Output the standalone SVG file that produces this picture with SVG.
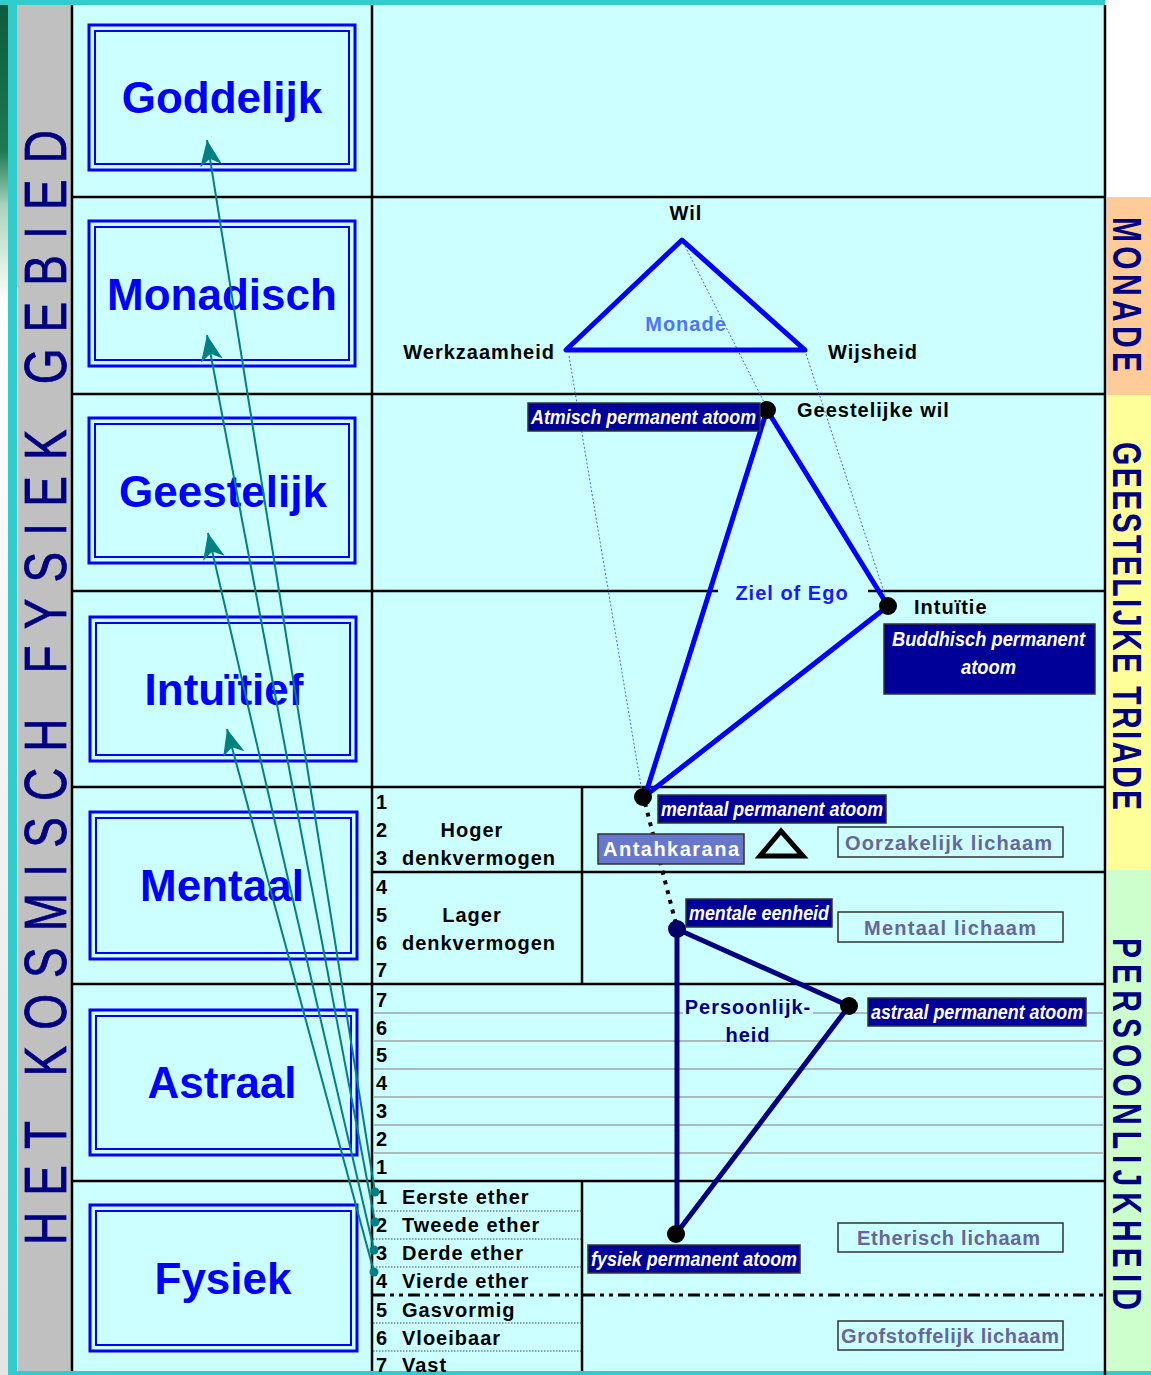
<svg xmlns="http://www.w3.org/2000/svg" width="1151" height="1375" viewBox="0 0 1151 1375">
<defs>
<linearGradient id="leftg" x1="0" y1="0" x2="0" y2="1">
<stop offset="0" stop-color="#0d5a3c"/>
<stop offset="0.11" stop-color="#1d7a55"/>
<stop offset="0.15" stop-color="#a9d4bd"/>
<stop offset="0.22" stop-color="#ffffff"/>
<stop offset="1" stop-color="#e4e4e4"/>
</linearGradient>
<marker id="ah" viewBox="-28 -13 30 26" markerWidth="30" markerHeight="26" refX="0" refY="0" orient="auto" markerUnits="userSpaceOnUse">
<path d="M0,0 L-26,-11 L-19,0 L-26,11 Z" fill="#008080"/>
</marker>
</defs>
<style>
text{font-family:"Liberation Sans",Arial,Helvetica,sans-serif}
.grid{stroke:#000;stroke-width:2.5;fill:none}
.thin{stroke:#a8bcbc;stroke-width:2}
.dot1{stroke:#444;stroke-width:1;stroke-dasharray:1.5 1.5}
.po{fill:none;stroke:#0000ff;stroke-width:3}
.pi{fill:none;stroke:#0000ff;stroke-width:2}
.pt{font-weight:bold;font-size:44px;fill:#0000ff;text-anchor:middle}
.t{font-weight:bold;font-size:20px;fill:#000;letter-spacing:1px}
.n{font-weight:bold;font-size:20px;fill:#000}
.lab rect{fill:#000099;stroke:#333;stroke-width:1.5}
.lab text{font-weight:bold;font-style:italic;font-size:20px;fill:#fff}
.bod rect{fill:#ccffff;stroke:#333;stroke-width:1.5}
.bod text{font-weight:bold;font-size:20px;fill:#666699}
.side{font-weight:bold;font-size:30px;fill:#000080}
.soul{stroke:#0000ff;stroke-width:5;fill:none;stroke-linejoin:round;stroke-linecap:round}
.pers{stroke:#000080;stroke-width:5;fill:none;stroke-linecap:round}
.proj{stroke:#4466ff;stroke-width:1;stroke-dasharray:2 2;fill:none}
.arr{stroke:#008080;stroke-width:2;fill:none;marker-end:url(#ah)}
</style>

<g id="background">
<rect x="0" y="0" width="1151" height="1375" fill="#ffffff"/>
<rect x="0" y="0" width="9" height="1375" fill="url(#leftg)"/>
<rect x="0" y="0" width="1105" height="5" fill="#33cccc"/>
<rect x="8" y="0" width="9" height="1375" fill="#33cccc"/>
<rect x="17" y="5" width="54" height="1366" fill="#c0c0c0"/>
<line x1="17.5" y1="287" x2="17.5" y2="1371" stroke="#eeeeee" stroke-width="1"/>
<rect x="73" y="5" width="1032" height="1366" fill="#ccffff"/>
<rect x="1107" y="197" width="44" height="198" fill="#ffcc99"/>
<rect x="1107" y="395" width="44" height="475" fill="#ffff99"/>
<rect x="1107" y="870" width="44" height="505" fill="#ccffcc"/>
<rect x="8" y="1371" width="1143" height="4" fill="#33cccc"/>
</g>

<g id="grid">
<line class="grid" x1="72" y1="5" x2="72" y2="1371" stroke-width="3"/>
<line class="grid" x1="372" y1="5" x2="372" y2="1371" stroke-width="1.5"/>
<line class="grid" x1="1105" y1="5" x2="1105" y2="1375" stroke-width="3"/>
<line class="grid" x1="73" y1="197" x2="1105" y2="197"/>
<line class="grid" x1="73" y1="394" x2="1105" y2="394"/>
<line class="grid" x1="73" y1="591" x2="1105" y2="591"/>
<line class="grid" x1="73" y1="787" x2="1105" y2="787"/>
<line class="grid" x1="73" y1="984" x2="1105" y2="984"/>
<line class="grid" x1="73" y1="1181" x2="1105" y2="1181"/>
<line class="grid" x1="372" y1="872" x2="1105" y2="872" stroke-width="2"/>
<line class="grid" x1="582" y1="787" x2="582" y2="984" stroke-width="1.5"/>
<line class="grid" x1="582" y1="1181" x2="582" y2="1371" stroke-width="1.5"/>
<line class="thin" x1="373" y1="1013" x2="1104" y2="1013"/>
<line class="thin" x1="373" y1="1041" x2="1104" y2="1041"/>
<line class="thin" x1="373" y1="1069" x2="1104" y2="1069"/>
<line class="thin" x1="373" y1="1097" x2="1104" y2="1097"/>
<line class="thin" x1="373" y1="1125" x2="1104" y2="1125"/>
<line class="thin" x1="373" y1="1153" x2="1104" y2="1153"/>
<line class="dot1" x1="373" y1="1211" x2="582" y2="1211"/>
<line class="dot1" x1="373" y1="1239" x2="582" y2="1239"/>
<line class="dot1" x1="373" y1="1267" x2="582" y2="1267"/>
<line class="dot1" x1="373" y1="1323" x2="582" y2="1323"/>
<line class="dot1" x1="373" y1="1351" x2="582" y2="1351"/>
<line x1="373" y1="1295" x2="1104" y2="1295" stroke="#000" stroke-width="3" stroke-dasharray="12 5 4 5 4 5"/>
</g>

<g id="side-titles">
<text transform="translate(66,1245) rotate(-90) scale(1,1.3)" font-size="46" fill="#000080" stroke="#000080" stroke-width="0.6" textLength="1115" lengthAdjust="spacing">HET KOSMISCH FYSIEK GEBIED</text>
<text class="side" transform="translate(1113,217) rotate(90) scale(1,1.35)" textLength="155" lengthAdjust="spacing">MONADE</text>
<text class="side" transform="translate(1113,442) rotate(90) scale(1,1.35)" textLength="368" lengthAdjust="spacing">GEESTELIJKE TRIADE</text>
<text class="side" transform="translate(1113,938) rotate(90) scale(1,1.35)" textLength="372" lengthAdjust="spacing">PERSOONLIJKHEID</text>
</g>

<g id="plane-goddelijk"><rect class="po" x="89" y="25" width="266" height="145"/><rect class="pi" x="95" y="31" width="254" height="133"/><text class="pt" x="222" y="113">Goddelijk</text></g>
<g id="plane-monadisch"><rect class="po" x="89" y="221" width="266" height="145"/><rect class="pi" x="95" y="227" width="254" height="133"/><text class="pt" x="222" y="310">Monadisch</text></g>
<g id="plane-geestelijk"><rect class="po" x="89" y="418" width="266" height="145"/><rect class="pi" x="95" y="424" width="254" height="133"/><text class="pt" x="223" y="507">Geestelijk</text></g>
<g id="plane-intuitief"><rect class="po" x="90" y="617" width="266" height="144"/><rect class="pi" x="96" y="623" width="254" height="132"/><text class="pt" x="224" y="705">Intuïtief</text></g>
<g id="plane-mentaal"><rect class="po" x="90" y="812" width="267" height="147"/><rect class="pi" x="96" y="818" width="255" height="135"/><text class="pt" x="222" y="901">Mentaal</text></g>
<g id="plane-astraal"><rect class="po" x="90" y="1010" width="267" height="145"/><rect class="pi" x="96" y="1016" width="255" height="133"/><text class="pt" x="222" y="1098">Astraal</text></g>
<g id="plane-fysiek"><rect class="po" x="90" y="1205" width="267" height="146"/><rect class="pi" x="96" y="1211" width="255" height="134"/><text class="pt" x="223" y="1294">Fysiek</text></g>

<g id="subplanes-mentaal">
<text class="n" x="376" y="809">1</text>
<text class="n" x="376" y="837">2</text>
<text class="n" x="376" y="865">3</text>
<text class="n" x="376" y="894">4</text>
<text class="n" x="376" y="922">5</text>
<text class="n" x="376" y="950">6</text>
<text class="n" x="376" y="977">7</text>
<text class="t" x="472" y="837" text-anchor="middle">Hoger</text>
<text class="t" x="402" y="865" textLength="154" lengthAdjust="spacing">denkvermogen</text>
<text class="t" x="472" y="922" text-anchor="middle">Lager</text>
<text class="t" x="402" y="950" textLength="154" lengthAdjust="spacing">denkvermogen</text>
</g>
<g id="subplanes-astraal">
<text class="n" x="376" y="1007">7</text>
<text class="n" x="376" y="1035">6</text>
<text class="n" x="376" y="1062">5</text>
<text class="n" x="376" y="1090">4</text>
<text class="n" x="376" y="1118">3</text>
<text class="n" x="376" y="1146">2</text>
<text class="n" x="376" y="1174">1</text>
</g>
<g id="subplanes-fysiek">
<text class="n" x="376" y="1204">1</text>
<text class="n" x="376" y="1232">2</text>
<text class="n" x="376" y="1260">3</text>
<text class="n" x="376" y="1288">4</text>
<text class="n" x="376" y="1317">5</text>
<text class="n" x="376" y="1345">6</text>
<text class="n" x="376" y="1372">7</text>
<text class="t" x="402" y="1204">Eerste ether</text>
<text class="t" x="402" y="1232">Tweede ether</text>
<text class="t" x="402" y="1260">Derde ether</text>
<text class="t" x="402" y="1288">Vierde ether</text>
<text class="t" x="402" y="1317">Gasvormig</text>
<text class="t" x="402" y="1345">Vloeibaar</text>
<text class="t" x="402" y="1372">Vast</text>
</g>

<g id="connectors">
<line class="proj" x1="569" y1="356" x2="642" y2="792"/>
<line class="proj" x1="685" y1="246" x2="765" y2="404"/>
<line class="proj" x1="806" y1="354" x2="886" y2="598"/>
<polygon class="soul" points="682,240 566,350 805,350"/>
<polyline class="soul" points="767,410 888,606 645,796 767,410"/>
<line x1="645" y1="803" x2="676" y2="924" stroke="#000" stroke-width="4" stroke-dasharray="4 6"/>
<polyline class="pers" points="677,1234 677,929 849,1006 676,1234"/>
<line class="arr" x1="375" y1="1192" x2="207" y2="140"/>
<line class="arr" x1="375" y1="1222" x2="207" y2="335"/>
<line class="arr" x1="374" y1="1250" x2="208" y2="533"/>
<line class="arr" x1="374" y1="1272" x2="227" y2="729"/>
<circle cx="375" cy="1192" r="4.5" fill="#008080"/>
<circle cx="375" cy="1222" r="4.5" fill="#008080"/>
<circle cx="374" cy="1250" r="4.5" fill="#008080"/>
<circle cx="374" cy="1272" r="4.5" fill="#008080"/>
</g>

<g id="monade">
<text class="t" x="686" y="220" text-anchor="middle">Wil</text>
<text class="t" x="686" y="331" text-anchor="middle" style="fill:#4d74ff">Monade</text>
<text class="t" x="555" y="359" text-anchor="end">Werkzaamheid</text>
<text class="t" x="828" y="359">Wijsheid</text>
</g>

<g id="atmisch">
<circle cx="767" cy="410" r="9" fill="#000"/>
<g class="lab"><rect x="528" y="403" width="232" height="28"/><text x="531" y="424" textLength="225" lengthAdjust="spacingAndGlyphs">Atmisch permanent atoom</text></g>
<text class="t" x="797" y="417">Geestelijke wil</text>
</g>
<g id="buddhisch">
<circle cx="888" cy="606" r="9" fill="#000"/>
<text class="t" x="914" y="614">Intuïtie</text>
<g class="lab"><rect x="884" y="624" width="211" height="70"/>
<text x="892" y="646" textLength="193" lengthAdjust="spacingAndGlyphs">Buddhisch permanent</text>
<text x="961" y="674" textLength="55" lengthAdjust="spacingAndGlyphs">atoom</text></g>
</g>
<g id="ziel">
<rect x="718" y="587" width="150" height="8" fill="#ccffff"/>
<text x="792" y="600" text-anchor="middle" font-weight="bold" font-size="20" fill="#1a1aff" letter-spacing="1">Ziel of Ego</text>
</g>
<g id="mentaal-atoom">
<circle cx="643" cy="797" r="9" fill="#000"/>
<g class="lab"><rect x="658" y="795" width="228" height="28"/><text x="661" y="816" textLength="222" lengthAdjust="spacingAndGlyphs">mentaal permanent atoom</text></g>
</g>
<g id="antahkarana">
<rect x="598" y="834" width="146" height="30" fill="#6677cc" stroke="#333" stroke-width="1.5"/>
<text x="671" y="856" text-anchor="middle" font-weight="bold" font-size="20" fill="#fff" textLength="136" lengthAdjust="spacing">Antahkarana</text>
<polygon points="781,831 760,856 803,856" fill="none" stroke="#000" stroke-width="5" stroke-linejoin="miter"/>
</g>
<g id="oorzakelijk" class="bod"><rect x="838" y="827" width="225" height="30"/><text x="845" y="850" textLength="207" lengthAdjust="spacing">Oorzakelijk lichaam</text></g>

<g id="mentale-eenheid">
<circle cx="677" cy="929" r="9" fill="#000066"/>
<g class="lab"><rect x="686" y="899" width="146" height="28"/><text x="689" y="920" textLength="140" lengthAdjust="spacingAndGlyphs">mentale eenheid</text></g>
</g>
<g id="mentaal-lichaam" class="bod"><rect x="838" y="912" width="225" height="30"/><text x="864" y="935" textLength="172" lengthAdjust="spacing">Mentaal lichaam</text></g>
<g id="persoonlijkheid">
<rect x="683" y="1009" width="130" height="8" fill="#ccffff"/>
<text x="748" y="1014" text-anchor="middle" font-weight="bold" font-size="20" fill="#000080" letter-spacing="1">Persoonlijk-</text>
<text x="748" y="1042" text-anchor="middle" font-weight="bold" font-size="20" fill="#000080" letter-spacing="1">heid</text>
</g>
<g id="astraal-atoom">
<circle cx="849" cy="1006" r="9" fill="#000"/>
<g class="lab"><rect x="868" y="998" width="218" height="28"/><text x="871" y="1019" textLength="212" lengthAdjust="spacingAndGlyphs">astraal permanent atoom</text></g>
</g>
<g id="fysiek-atoom">
<circle cx="676" cy="1234" r="9" fill="#000"/>
<g class="lab"><rect x="588" y="1245" width="212" height="28"/><text x="591" y="1266" textLength="206" lengthAdjust="spacingAndGlyphs">fysiek permanent atoom</text></g>
</g>
<g id="etherisch-lichaam" class="bod"><rect x="838" y="1223" width="225" height="29"/><text x="857" y="1245" textLength="183" lengthAdjust="spacing">Etherisch lichaam</text></g>
<g id="grofstoffelijk-lichaam" class="bod"><rect x="838" y="1321" width="225" height="29"/><text x="841" y="1343" textLength="218" lengthAdjust="spacing">Grofstoffelijk lichaam</text></g>
</svg>
